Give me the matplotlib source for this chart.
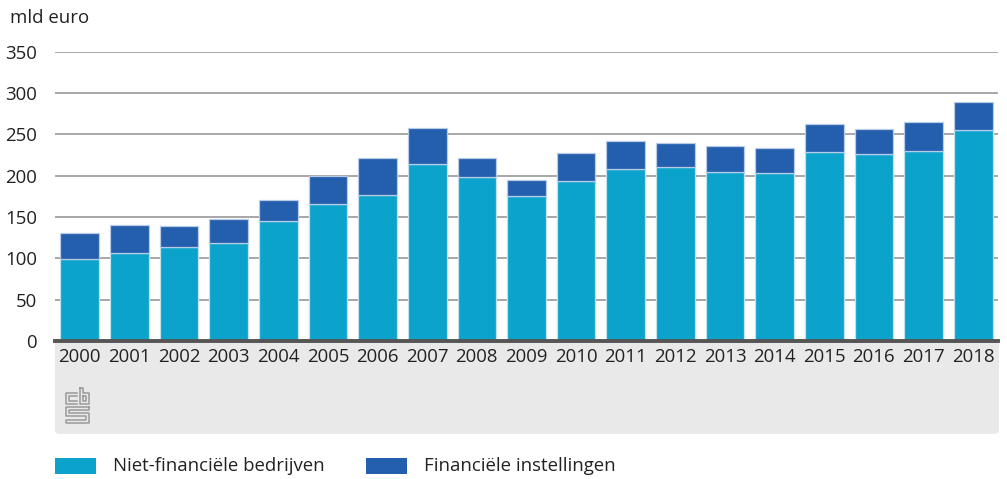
import matplotlib
matplotlib.use("Agg")
import matplotlib.pyplot as plt
from matplotlib.patches import FancyBboxPatch, Rectangle
from matplotlib.lines import Line2D
import numpy as np

years = ["2000", "2001", "2002", "2003", "2004", "2005", "2006", "2007", "2008", "2009",
         "2010", "2011", "2012", "2013", "2014", "2015", "2016", "2017", "2018"]
niet_financieel = [99, 107, 114, 119, 145, 166, 177, 214, 199, 175,
                   194, 208, 211, 204, 203, 229, 226, 230, 255]
financieel = [32, 33, 25, 28, 26, 34, 45, 44, 22, 20,
              33, 34, 28, 32, 30, 33, 30, 35, 34]
y_ticks = [0, 50, 100, 150, 200, 250, 300, 350]
series_names = ["Niet-financiële bedrijven", "Financiële instellingen"]
y_unit = "mld euro"

LIGHT = "#0BA3CB"
DARK = "#235FAD"
FONT = "Open Sans"
plt.rcParams['font.family'] = [FONT, 'DejaVu Sans']

W, H = 1007, 479
fig = plt.figure(figsize=(W / 100, H / 100), dpi=100)

def fx(px):
    return px / W

def fy(py):
    return 1 - py / H

# grey panel below axis
panel = FancyBboxPatch((fx(55), fy(434)), fx(999) - fx(55), fy(341) - fy(434),
                       boxstyle="round,pad=0,rounding_size=0.006",
                       transform=fig.transFigure, facecolor="#E9E9E9",
                       edgecolor="none", zorder=-5)
fig.patches.append(panel)

ax_left, ax_right = 55, 998
ax_top, ax_bot = 51.7, 341
ax = fig.add_axes([fx(ax_left), fy(ax_bot), fx(ax_right) - fx(ax_left), fy(ax_top) - fy(ax_bot)])
ax.set_facecolor("none")
ax.set_zorder(2)

x = np.arange(len(years))
ax.bar(x, niet_financieel, width=0.78, color=LIGHT, edgecolor="#BFE2EE", linewidth=0.9, zorder=3)
ax.bar(x, financieel, bottom=niet_financieel, width=0.78, color=DARK, edgecolor="#B9CBE6",
       linewidth=0.9, zorder=3)

ax.set_xlim(-0.5, len(years) - 0.5)
ax.set_ylim(0, 350)
for v in y_ticks[1:]:
    ax.axhline(v, color="#8F8F8F", linewidth=1.1, zorder=1)
ax.axhline(0, color="#555555", linewidth=2.8, zorder=4, clip_on=False)

for s in ax.spines.values():
    s.set_visible(False)
ax.set_yticks(y_ticks)
ax.set_yticklabels([str(v) for v in y_ticks], fontsize=13.4, color="#222222")
ax.tick_params(axis="y", length=0, pad=13)
ax.set_xticks(x)
ax.set_xticklabels(years, fontsize=13.4, color="#222222")
ax.tick_params(axis="x", length=0, pad=5)

fig.text(fx(10), fy(18), y_unit, fontsize=13.4, color="#222222", va="center", ha="left")

# legend
fig.patches.append(Rectangle((fx(55), fy(474)), fx(96) - fx(55), fy(458) - fy(474),
                             transform=fig.transFigure, facecolor=LIGHT, edgecolor="none"))
fig.text(fx(113), fy(466), series_names[0], fontsize=13.4, color="#222222", va="center")
fig.patches.append(Rectangle((fx(366), fy(474)), fx(407) - fx(366), fy(458) - fy(474),
                             transform=fig.transFigure, facecolor=DARK, edgecolor="none"))
fig.text(fx(424), fy(466), series_names[1], fontsize=13.4, color="#222222", va="center")

# CBS-like logo (decorative)
def pl(pts, lw=1.1):
    xs = [fx(p[0]) for p in pts]
    ys = [fy(p[1]) for p in pts]
    fig.lines.append(Line2D(xs, ys, transform=fig.transFigure, color="#9A9A9A", linewidth=lw))

pl([(77, 393), (66, 393), (66, 404), (77, 404)])
pl([(77, 396), (69, 396), (69, 401), (77, 401)])
pl([(80, 388), (80, 404), (89, 404), (89, 393), (83, 393), (83, 388), (80, 388)])
pl([(83, 396), (86, 396), (86, 401), (83, 401), (83, 396)])
pl([(89, 407), (66, 407), (66, 416), (86, 416), (86, 420), (66, 420), (66, 423), (89, 423), (89, 413), (69, 413), (69, 410), (89, 410), (89, 407)])

fig.savefig("out.png", dpi=100)
